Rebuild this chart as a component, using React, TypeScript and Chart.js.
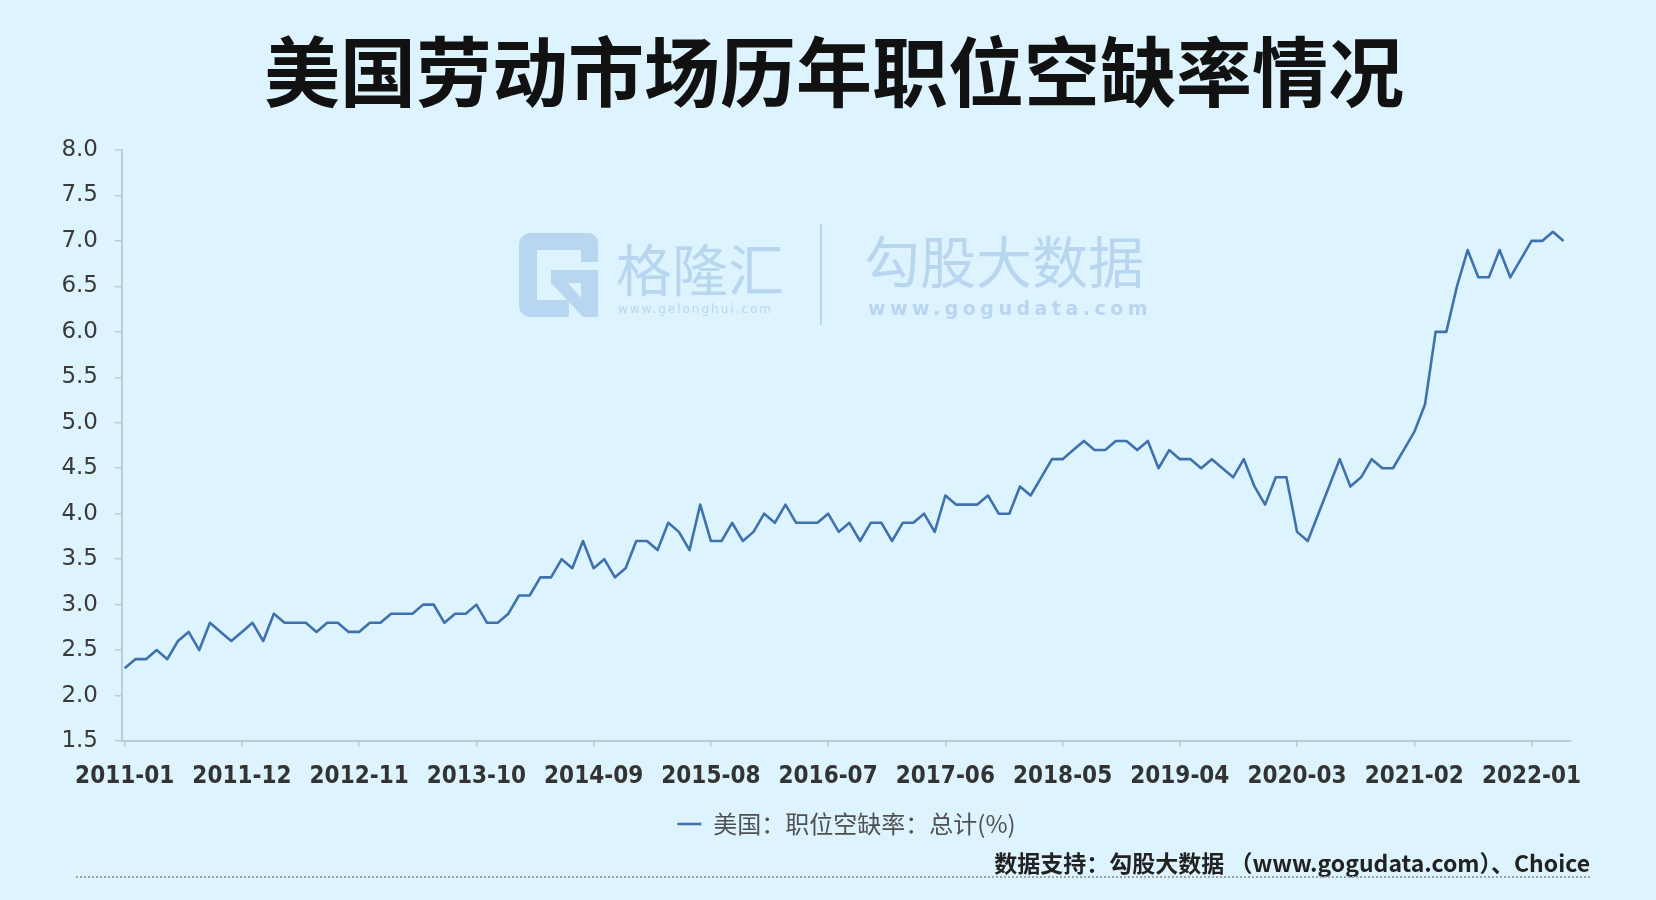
import React, { useEffect, useRef } from "react";
import { Chart, registerables } from "chart.js";

Chart.register(...registerables);

// ---------- data ----------
const TITLE = "美国劳动市场历年职位空缺率情况";
const SERIES_LABEL = "美国：职位空缺率：总计(%)";
const SOURCE_TEXT = "数据支持：勾股大数据 （www.gogudata.com）、Choice";

const START_YEAR = 2011;
const START_MONTH = 1;

// monthly job openings rate (%), 2011-01 .. 2022-04
const rates2011_2012 = [
  2.3, 2.4, 2.4, 2.5, 2.4, 2.6, 2.7, 2.5, 2.8, 2.7, 2.6, 2.7,
  2.8, 2.6, 2.9, 2.8, 2.8, 2.8, 2.7, 2.8, 2.8, 2.7, 2.7, 2.8,
];
const rates2013_2014 = [
  2.8, 2.9, 2.9, 2.9, 3.0, 3.0, 2.8, 2.9, 2.9, 3.0, 2.8, 2.8,
  2.9, 3.1, 3.1, 3.3, 3.3, 3.5, 3.4, 3.7, 3.4, 3.5, 3.3, 3.4,
];
const rates2015_2016 = [
  3.7, 3.7, 3.6, 3.9, 3.8, 3.6, 4.1, 3.7, 3.7, 3.9, 3.7, 3.8,
  4.0, 3.9, 4.1, 3.9, 3.9, 3.9, 4.0, 3.8, 3.9, 3.7, 3.9, 3.9,
];
const rates2017_2018 = [
  3.7, 3.9, 3.9, 4.0, 3.8, 4.2, 4.1, 4.1, 4.1, 4.2, 4.0, 4.0,
  4.3, 4.2, 4.4, 4.6, 4.6, 4.7, 4.8, 4.7, 4.7, 4.8, 4.8, 4.7,
];
const rates2019_2020 = [
  4.8, 4.5, 4.7, 4.6, 4.6, 4.5, 4.6, 4.5, 4.4, 4.6, 4.3, 4.1,
  4.4, 4.4, 3.8, 3.7, 4.0, 4.3, 4.6, 4.3, 4.4, 4.6, 4.5, 4.5,
];
const rates2021_2022 = [
  4.7, 4.9, 5.2, 6.0, 6.0, 6.5, 6.9, 6.6, 6.6, 6.9, 6.6, 6.8,
  7.0, 7.0, 7.1, 7.0,
];
const rates = [
  ...rates2011_2012,
  ...rates2013_2014,
  ...rates2015_2016,
  ...rates2017_2018,
  ...rates2019_2020,
  ...rates2021_2022,
];

const months: string[] = rates.map((_, i) => {
  const m = START_MONTH - 1 + i;
  const y = START_YEAR + Math.floor(m / 12);
  const mm = (m % 12) + 1;
  return `${y}-${String(mm).padStart(2, "0")}`;
});

const tickMonths = [
  "2011-01", "2011-12", "2012-11", "2013-10", "2014-09", "2015-08", "2016-07",
  "2017-06", "2018-05", "2019-04", "2020-03", "2021-02", "2022-01",
];

const Y_MIN = 1.5;
const Y_MAX = 8.0;
const Y_STEP = 0.5;

// ---------- styles ----------
const BG = "rgb(221,244,254)";
const LINE = "#3f72ad";
const AXIS = "#c0cad3";
const WM = "#b8d6ef";

const bgPlugin = {
  id: "bgPlugin",
  beforeDraw(chart: any) {
    const { ctx, width, height } = chart;
    ctx.save();
    ctx.fillStyle = BG;
    ctx.fillRect(0, 0, width, height);
    ctx.restore();
  },
};

const watermarkPlugin = {
  id: "watermarkPlugin",
  beforeDatasetsDraw(chart: any) {
    const ctx = chart.ctx as CanvasRenderingContext2D;
    ctx.save();
    ctx.fillStyle = WM;
    ctx.strokeStyle = WM;
    // G logo
    const rr = (x: number, y: number, w: number, h: number, r: any) => {
      ctx.beginPath();
      ctx.roundRect(x, y, w, h, r);
      ctx.fill();
    };
    rr(519, 233, 79, 17, [12, 10, 0, 0]);
    rr(581, 233, 17, 29, [0, 10, 0, 0]);
    rr(519, 233, 18, 84, [12, 0, 0, 12]);
    rr(519, 300, 50, 17, [0, 0, 0, 12]);
    rr(551, 270, 47, 13, 0);
    ctx.beginPath();
    ctx.moveTo(581, 283);
    ctx.lineTo(598, 283);
    ctx.lineTo(598, 317);
    ctx.lineTo(581, 298);
    ctx.closePath();
    ctx.fill();
    ctx.beginPath();
    ctx.moveTo(551, 283);
    ctx.lineTo(568, 283);
    ctx.lineTo(598, 317);
    ctx.lineTo(583, 317);
    ctx.closePath();
    ctx.fill();

    ctx.textBaseline = "middle";
    ctx.textAlign = "left";
    ctx.font = "56px 'Noto Sans CJK SC'";
    ctx.fillText("格隆汇", 616, 270);
    ctx.font = "12px 'DejaVu Sans'";
    (ctx as any).letterSpacing = "2px";
    ctx.fillText("www.gelonghui.com", 618, 310);

    ctx.lineWidth = 2;
    ctx.beginPath();
    ctx.moveTo(821, 224);
    ctx.lineTo(821, 325);
    ctx.stroke();

    (ctx as any).letterSpacing = "0px";
    ctx.font = "56px 'Noto Sans CJK SC'";
    ctx.fillText("勾股大数据", 864, 262);
    ctx.font = "bold 19px 'DejaVu Sans'";
    (ctx as any).letterSpacing = "4.5px";
    ctx.fillText("www.gogudata.com", 868, 310);
    ctx.restore();
  },
};

const footerPlugin = {
  id: "footerPlugin",
  afterDraw(chart: any) {
    const ctx = chart.ctx as CanvasRenderingContext2D;
    ctx.save();
    ctx.fillStyle = "#222";
    ctx.textAlign = "right";
    ctx.textBaseline = "middle";
    ctx.font = "bold 23px 'Noto Sans CJK SC'";
    ctx.fillText(SOURCE_TEXT, 1590, 863);
    ctx.strokeStyle = "#9aa4ab";
    ctx.lineWidth = 2;
    ctx.setLineDash([2, 2]);
    ctx.beginPath();
    ctx.moveTo(76, 877);
    ctx.lineTo(1590, 877);
    ctx.stroke();
    ctx.restore();
  },
};

export default function App() {
  const ref = useRef<HTMLCanvasElement | null>(null);

  useEffect(() => {
    if (!ref.current) return;
    const points = rates.map((v, i) => ({ x: i, y: v }));
    const tickIdx = tickMonths.map((m) => months.indexOf(m));
    const chart = new Chart(ref.current, {
      type: "line",
      data: {
        datasets: [
          {
            label: SERIES_LABEL,
            data: points,
            borderColor: LINE,
            backgroundColor: LINE,
            borderWidth: 2.6,
            pointRadius: 0,
            pointHoverRadius: 0,
            tension: 0,
            borderJoinStyle: "round",
            fill: false,
            yAxisID: "y",
          },
        ],
      },
      options: {
        responsive: false,
        animation: false,
        devicePixelRatio: 1,
        layout: { padding: { left: 12, right: 0, top: 0, bottom: 54 } },
        plugins: {
          title: {
            display: true,
            text: TITLE,
            color: "#111",
            font: { family: "'Noto Sans CJK SC'", size: 76, weight: "bold", lineHeight: 1.2 },
            padding: { top: 26.4, bottom: 32.4 },
          },
          legend: {
            display: true,
            position: "bottom",
            align: "center",
            fullSize: false,
            labels: {
              usePointStyle: true,
              pointStyle: "line",
              pointStyleWidth: 24,
              padding: 10,
              color: "#505050",
              font: { family: "'Noto Sans CJK SC'", size: 24 },
            },
          },
          tooltip: { enabled: false },
        },
        scales: {
          x: {
            type: "linear",
            min: -0.25,
            max: 135.7,
            afterBuildTicks: (scale: any) => {
              scale.ticks = tickIdx.map((v) => ({ value: v }));
            },
            afterFit: (scale: any) => {
              scale.height = 61;
            },
            ticks: {
              autoSkip: false,
              maxRotation: 0,
              minRotation: 0,
              padding: 15,
              color: "#333",
              font: { family: "'DejaVu Sans Condensed', 'DejaVu Sans'", size: 24, weight: "bold" },
              callback: (v: any) => months[Math.round(Number(v))] ?? "",
            },
            grid: { drawOnChartArea: false, drawTicks: true, tickLength: 6, color: AXIS, lineWidth: 1.5 },
            border: { display: true, color: AXIS, width: 2 },
          },
          y: {
            type: "linear",
            position: "left",
            min: Y_MIN,
            max: Y_MAX,
            afterFit: (scale: any) => {
              scale.width = 110;
            },
            ticks: {
              stepSize: Y_STEP,
              padding: 17,
              color: "#3a3a3a",
              font: { family: "'DejaVu Sans'", size: 23 },
              callback: (v: any) => Number(v).toFixed(1),
            },
            grid: { drawOnChartArea: false, drawTicks: true, tickLength: 7, color: AXIS, lineWidth: 1.5 },
            border: { display: true, color: AXIS, width: 2 },
          },
          yPad: {
            type: "linear",
            position: "right",
            display: true,
            min: 0,
            max: 1,
            afterFit: (scale: any) => {
              scale.width = 85;
            },
            ticks: { display: false },
            grid: { display: false, drawTicks: false },
            border: { display: false },
          },
        },
      },
      plugins: [bgPlugin, watermarkPlugin, footerPlugin],
    } as any);
    return () => chart.destroy();
  }, []);

  return (
    <div style={{ position: "absolute", left: 0, top: 0, width: 1656, height: 900, background: BG }}>
      <canvas ref={ref} width={1656} height={900} style={{ display: "block", width: 1656, height: 900 }} />
    </div>
  );
}
